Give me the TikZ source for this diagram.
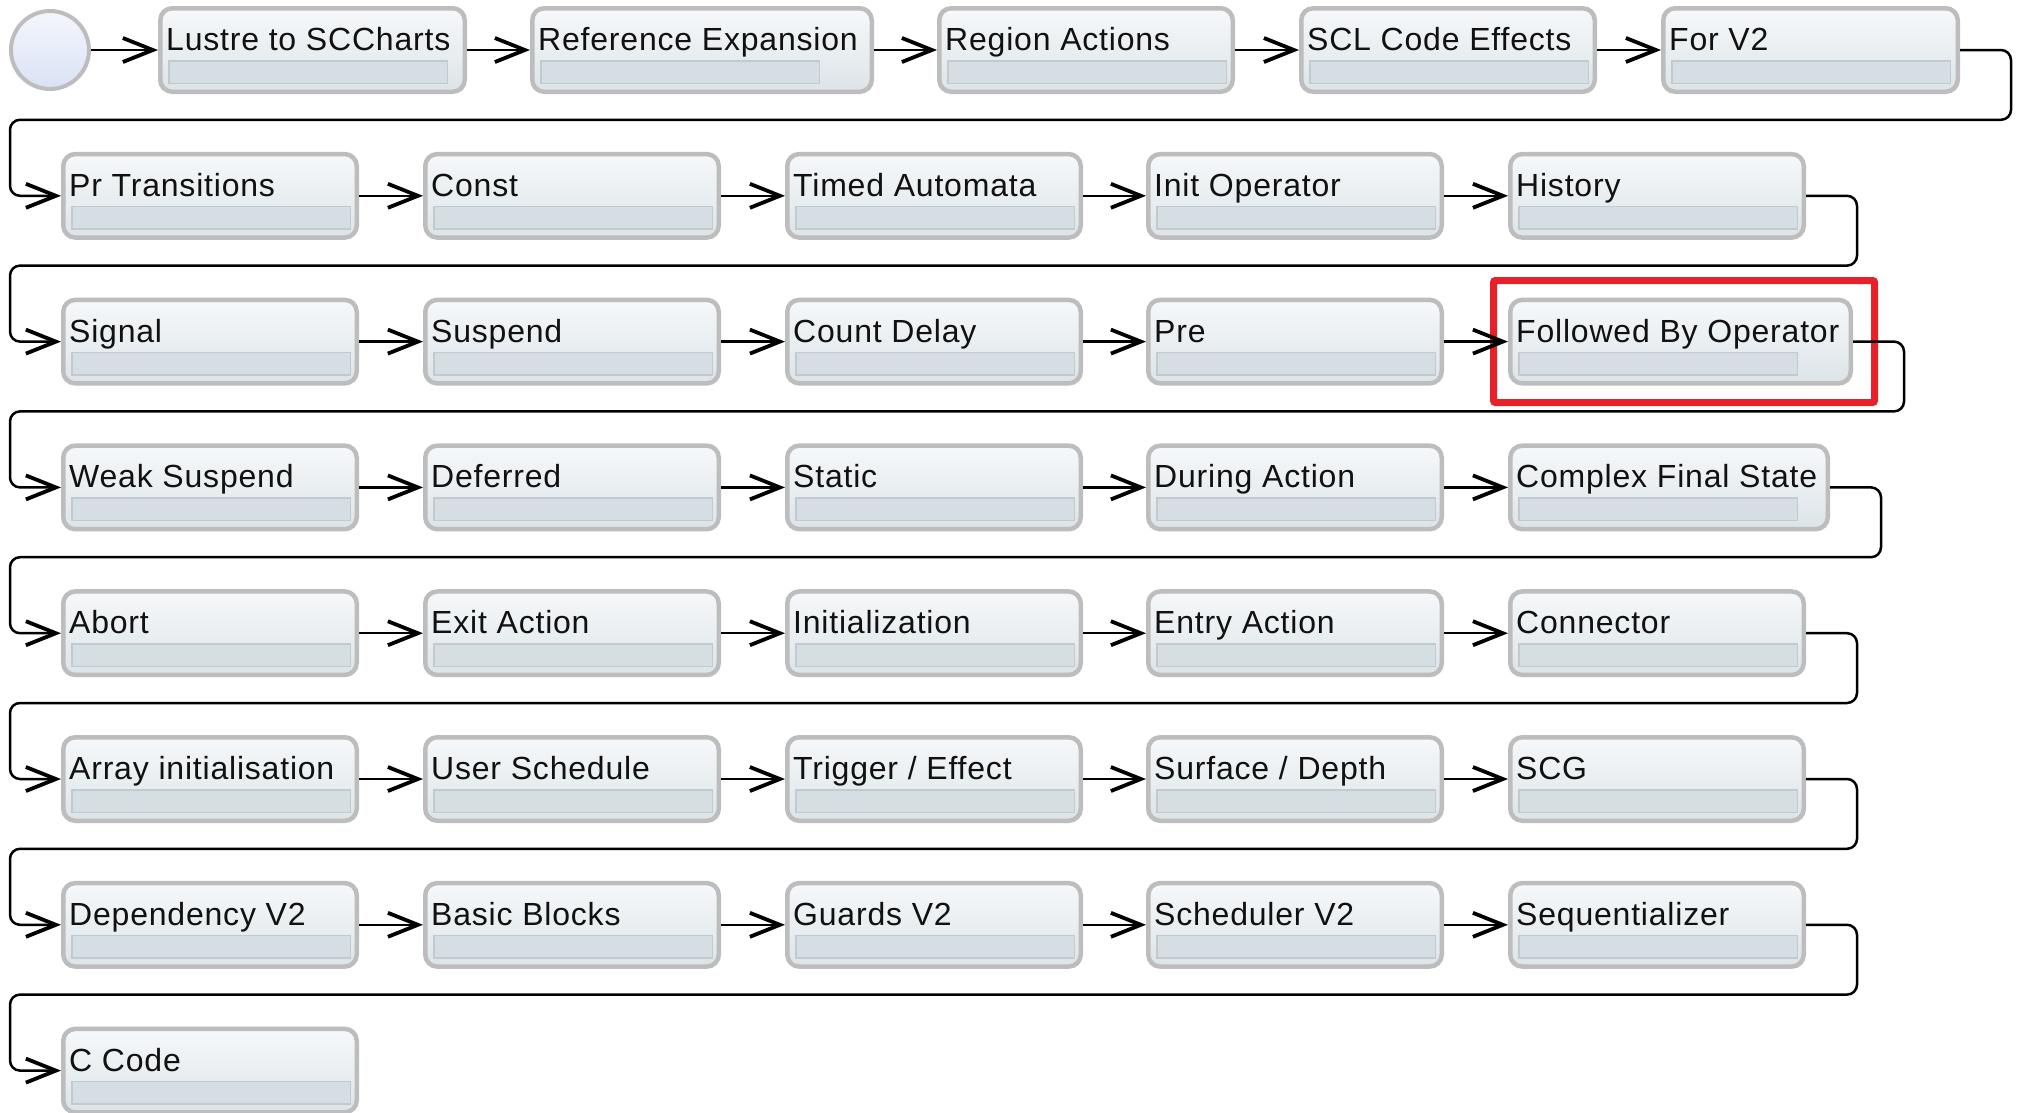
\documentclass[tikz,border=0pt]{standalone}
\usepackage{fontspec}
\setmainfont{Liberation Sans}[LetterSpace=2.5]
\usetikzlibrary{arrows.meta,calc}

\definecolor{boxline}{HTML}{BDBDBD}
\definecolor{boxtop}{HTML}{F6F8FA}
\definecolor{boxbottom}{HTML}{DCE4E8}
\definecolor{barfill}{HTML}{D5DEE3}
\definecolor{barline}{HTML}{C3CACF}
\definecolor{inittop}{HTML}{F4F6FB}
\definecolor{initbottom}{HTML}{D9E2F5}
\definecolor{focusred}{HTML}{E8202A}
\definecolor{labeltext}{HTML}{111111}

\tikzset{
  stagebox/.style={draw=boxline, line width=4.5pt, rounded corners=12pt,
    top color=boxtop, bottom color=boxbottom, minimum height=83.5pt,
    inner sep=0pt, anchor=north west},
  stagebar/.style={draw=barline, line width=1.5pt, fill=barfill,
    minimum width=278.5pt, minimum height=22.5pt, inner sep=0pt, anchor=north west},
  stagelabel/.style={inner sep=0pt, anchor=base west, text=labeltext,
    font=\fontsize{32}{38}\selectfont},
  flow/.style={draw=black, line width=2.5pt,
    -{Straight Barb[length=30pt,width=24pt,line width=3.8pt]}},
  wrap/.style={flow, rounded corners=10pt},
  initstate/.style={circle, draw=boxline, line width=4pt, top color=inittop,
    bottom color=initbottom, minimum size=78pt, inner sep=0pt},
  focus/.style={draw=focusred, line width=7pt, rounded corners=2pt,
    minimum width=381pt, minimum height=122pt, inner sep=0pt, anchor=north west},
}

% #1 name, #2 left, #3 top, #4 outer width, #5 label
\newcommand\pipestage[5]{%
  \node[stagebox, minimum width={#4pt-4.5pt}] (#1) at (#2,#3) {};
  \node[stagebar] (#1-bar) at (#2+10,#3+54) {};
  \node[stagelabel] (#1-text) at (#2+8,#3+44.5) {#5};
}
% row change: leave to the right, run back along the left margin
\newcommand\wrapto[2]{%
  \draw[wrap] (#1.east) -- ++(51,0) |- ([xshift=-51pt,yshift=76pt]#2.west) |- (#2.west);
}

\begin{document}
\begin{tikzpicture}[x=1pt,y=-1pt]
\useasboundingbox (0,0) rectangle (2021,1112);
\fill[white] (0,0) rectangle (2021,1112);

% row 1
\node[initstate] (init) at (50,50) {};
\pipestage{lustre}{158}{6}{309}{Lustre to SCCharts}
\pipestage{refexp}{530}{6}{344}{Reference Expansion}
\pipestage{regact}{937}{6}{298}{Region Actions}
\pipestage{sclfx}{1299}{6}{298}{SCL Code Effects}
\pipestage{forvtwo}{1661}{6}{299}{For V2}

% row 2
\pipestage{prtrans}{61}{151.8}{298}{Pr Transitions}
\pipestage{const}{423}{151.8}{298}{Const}
\pipestage{timed}{785}{151.8}{298}{Timed Automata}
\pipestage{initop}{1146}{151.8}{298}{Init Operator}
\pipestage{history}{1508}{151.8}{298}{History}

% row 3
\pipestage{signal}{61}{297.6}{298}{Signal}
\pipestage{suspend}{423}{297.6}{298}{Suspend}
\pipestage{countdelay}{785}{297.6}{298}{Count Delay}
\pipestage{pre}{1146}{297.6}{298}{Pre}
\pipestage{followed}{1508}{297.6}{345}{Followed By Operator}

% row 4
\pipestage{weaksusp}{61}{443.4}{298}{Weak Suspend}
\pipestage{deferred}{423}{443.4}{298}{Deferred}
\pipestage{static}{785}{443.4}{298}{Static}
\pipestage{during}{1146}{443.4}{298}{During Action}
\pipestage{cfinal}{1508}{443.4}{322}{Complex Final State}

% row 5
\pipestage{abort}{61}{589.2}{298}{Abort}
\pipestage{exitact}{423}{589.2}{298}{Exit Action}
\pipestage{initlz}{785}{589.2}{298}{Initialization}
\pipestage{entry}{1146}{589.2}{298}{Entry Action}
\pipestage{connector}{1508}{589.2}{298}{Connector}

% row 6
\pipestage{arrinit}{61}{735}{298}{Array initialisation}
\pipestage{usersched}{423}{735}{298}{User Schedule}
\pipestage{trigeff}{785}{735}{298}{Trigger / Effect}
\pipestage{surfdepth}{1146}{735}{298}{Surface / Depth}
\pipestage{scg}{1508}{735}{298}{SCG}

% row 7
\pipestage{depvtwo}{61}{880.8}{298}{Dependency V2}
\pipestage{basicbl}{423}{880.8}{298}{Basic Blocks}
\pipestage{guardsvtwo}{785}{880.8}{298}{Guards V2}
\pipestage{schedvtwo}{1146}{880.8}{298}{Scheduler V2}
\pipestage{seqlz}{1508}{880.8}{298}{Sequentializer}

% row 8
\pipestage{ccode}{61}{1026.6}{298}{C Code}

% highlight frame
\node[focus] (focusframe) at (1490,277) {};

% connectors within rows
\foreach \a/\b in {init/lustre, lustre/refexp, refexp/regact, regact/sclfx, sclfx/forvtwo,
  prtrans/const, const/timed, timed/initop, initop/history,
  signal/suspend, suspend/countdelay, countdelay/pre, pre/followed,
  weaksusp/deferred, deferred/static, static/during, during/cfinal,
  abort/exitact, exitact/initlz, initlz/entry, entry/connector,
  arrinit/usersched, usersched/trigeff, trigeff/surfdepth, surfdepth/scg,
  depvtwo/basicbl, basicbl/guardsvtwo, guardsvtwo/schedvtwo, schedvtwo/seqlz}
  \draw[flow] (\a.east) -- (\b.west);

% connectors between rows
\wrapto{forvtwo}{prtrans}
\wrapto{history}{signal}
\wrapto{followed}{weaksusp}
\wrapto{cfinal}{abort}
\wrapto{connector}{arrinit}
\wrapto{scg}{depvtwo}
\wrapto{seqlz}{ccode}
\end{tikzpicture}
\end{document}
